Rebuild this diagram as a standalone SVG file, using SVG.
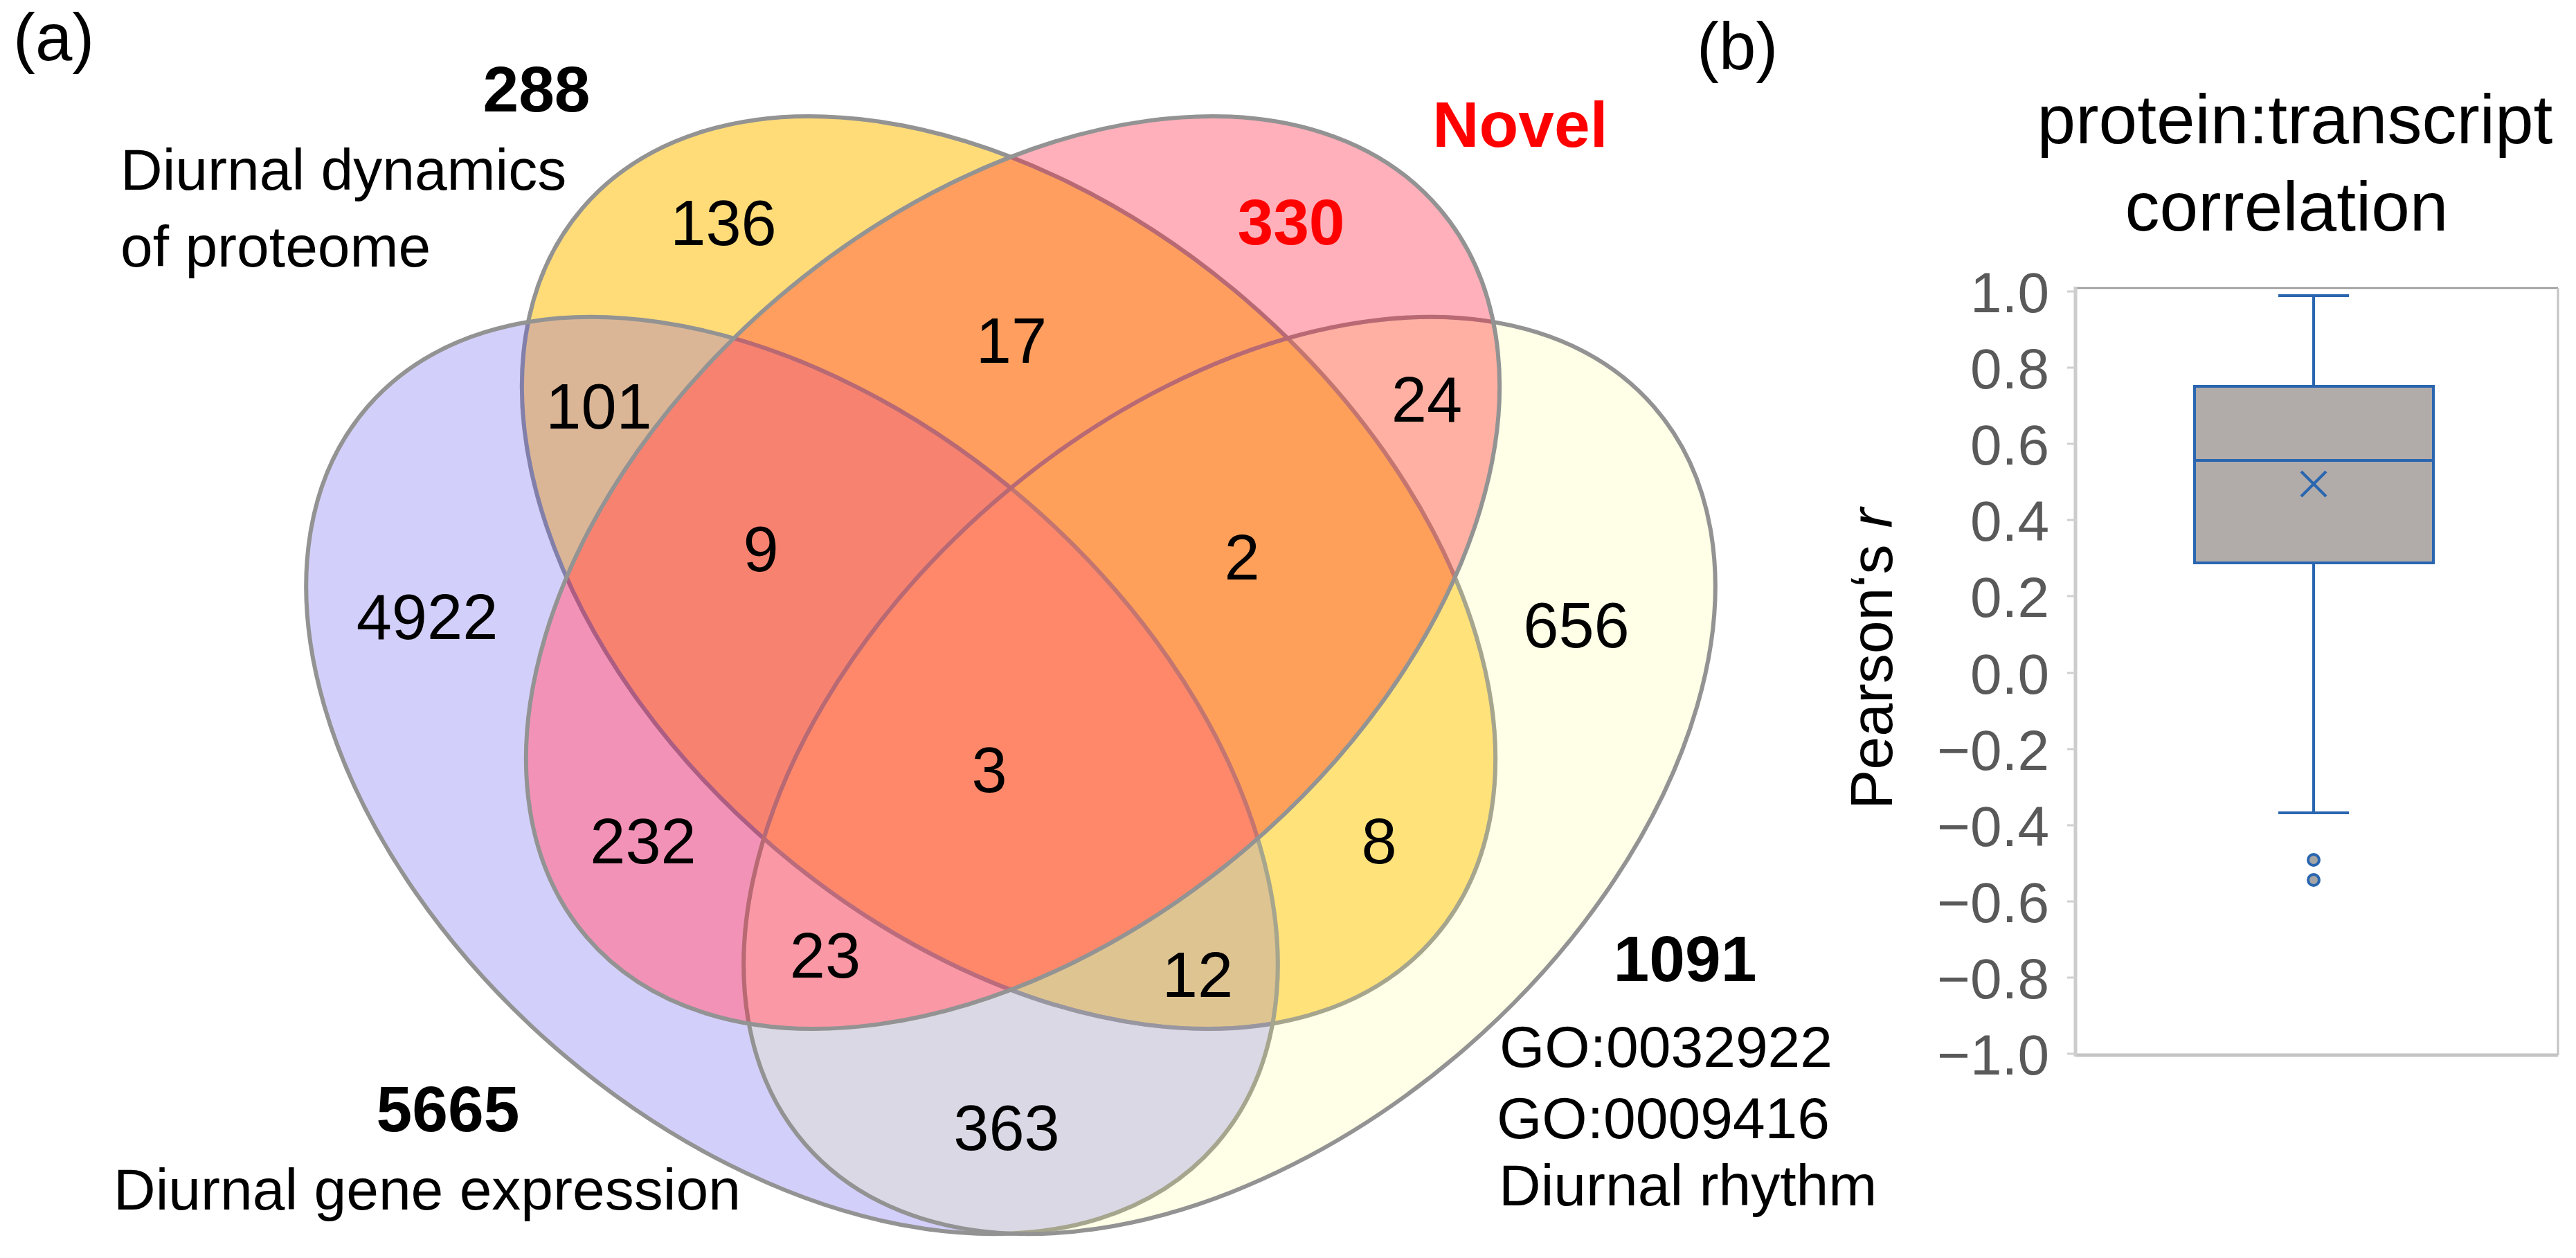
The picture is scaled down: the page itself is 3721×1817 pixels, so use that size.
<svg xmlns="http://www.w3.org/2000/svg" xmlns:xlink="http://www.w3.org/1999/xlink" width="3721" height="1817" viewBox="0 0 3721 1817">
<style>
  .num { font-family: "Liberation Sans", Arial, sans-serif; font-size: 92px; fill: #000; text-anchor: middle; }
  .bold { font-family: "Liberation Sans", Arial, sans-serif; font-size: 93px; font-weight: bold; fill: #000; text-anchor: middle; }
  .red { fill: #ff0000; }
  .lbl { font-family: "Liberation Sans", Arial, sans-serif; font-size: 84px; fill: #000; }
  .panel { font-family: "Liberation Sans", Arial, sans-serif; font-size: 96px; fill: #000; }
  .tick { font-family: "Liberation Sans", Arial, sans-serif; font-size: 82px; fill: #595959; text-anchor: end; }
  .title { font-family: "Liberation Sans", Arial, sans-serif; font-size: 100px; fill: #000; text-anchor: middle; }
  .ol { fill: none; stroke: #939393; stroke-width: 6; }
  .tB { fill: none; stroke: rgb(82,74,236); stroke-opacity: 0.26; stroke-width: 6; }
  .tG { fill: none; stroke: rgb(255,249,116); stroke-opacity: 0.18; stroke-width: 6; }
  .tP { fill: none; stroke: rgb(255,29,58); stroke-opacity: 0.35; stroke-width: 6; }
  .bx { stroke: #2a66b0; stroke-width: 4; }
</style>
<defs>
  <ellipse id="eY" cx="0" cy="0" rx="810" ry="522" transform="translate(1457 827) rotate(40.5)"/>
  <ellipse id="eP" cx="0" cy="0" rx="810" ry="522" transform="translate(1463 827) rotate(-40.5)"/>
  <ellipse id="eB" cx="0" cy="0" rx="812" ry="521" transform="translate(1144 1120) rotate(41)"/>
  <ellipse id="eG" cx="0" cy="0" rx="812" ry="521" transform="translate(1776 1120) rotate(-41)"/>
  <clipPath id="cY"><use xlink:href="#eY"/></clipPath>
  <clipPath id="cP"><use xlink:href="#eP"/></clipPath>
  <clipPath id="cB"><use xlink:href="#eB"/></clipPath>
  <clipPath id="cG"><use xlink:href="#eG"/></clipPath>
</defs>
<rect width="3721" height="1817" fill="#ffffff"/>

<!-- Venn fills -->
<g id="venn-fills">
  <use xlink:href="#eB" fill="#d2d0fa"/>
  <use xlink:href="#eG" fill="#fffee6"/>
  <use xlink:href="#eY" fill="#ffdc78"/>
  <use xlink:href="#eP" fill="#ffb0ba"/>
  <g clip-path="url(#cY)"><use xlink:href="#eB" fill="#dbb696"/></g>
  <g clip-path="url(#cY)"><use xlink:href="#eP" fill="#ff9e5e"/></g>
  <g clip-path="url(#cY)"><use xlink:href="#eG" fill="#ffe27a"/></g>
  <g clip-path="url(#cB)"><use xlink:href="#eP" fill="#f392b7"/></g>
  <g clip-path="url(#cB)"><use xlink:href="#eG" fill="#dad8e4"/></g>
  <g clip-path="url(#cP)"><use xlink:href="#eG" fill="#ffb0a2"/></g>
  <g clip-path="url(#cY)"><g clip-path="url(#cB)"><use xlink:href="#eP" fill="#f88270"/></g></g>
  <g clip-path="url(#cY)"><g clip-path="url(#cB)"><use xlink:href="#eG" fill="#dec491"/></g></g>
  <g clip-path="url(#cY)"><g clip-path="url(#cP)"><use xlink:href="#eG" fill="#ffa05a"/></g></g>
  <g clip-path="url(#cB)"><g clip-path="url(#cP)"><use xlink:href="#eG" fill="#fb98a6"/></g></g>
  <g clip-path="url(#cY)"><g clip-path="url(#cB)"><g clip-path="url(#cP)"><use xlink:href="#eG" fill="#ff886a"/></g></g></g>
</g>

<!-- Venn outlines -->
<g id="set-proteome">
  <use xlink:href="#eY" class="ol"/>
  <g clip-path="url(#cB)"><use xlink:href="#eY" class="tB"/></g>
  <g clip-path="url(#cG)"><use xlink:href="#eY" class="tG"/></g>
  <g clip-path="url(#cP)"><use xlink:href="#eY" class="tP"/></g>
</g>
<g id="set-gene-expression">
  <use xlink:href="#eB" class="ol"/>
  <g clip-path="url(#cG)"><use xlink:href="#eB" class="tG"/></g>
  <g clip-path="url(#cP)"><use xlink:href="#eB" class="tP"/></g>
</g>
<g id="set-go">
  <use xlink:href="#eG" class="ol"/>
  <g clip-path="url(#cP)"><use xlink:href="#eG" class="tP"/></g>
</g>
<g id="set-novel">
  <use xlink:href="#eP" class="ol"/>
</g>

<!-- Region counts -->
<g id="region-counts">
  <text class="num" x="1045" y="354">136</text>
  <text class="bold red" x="1865" y="353">330</text>
  <text class="num" x="865" y="619">101</text>
  <text class="num" x="1461" y="524">17</text>
  <text class="num" x="2061" y="609">24</text>
  <text class="num" x="1099" y="825">9</text>
  <text class="num" x="1794" y="837">2</text>
  <text class="num" x="617" y="923">4922</text>
  <text class="num" x="2277" y="935">656</text>
  <text class="num" x="1429" y="1144">3</text>
  <text class="num" x="929" y="1247">232</text>
  <text class="num" x="1992" y="1247">8</text>
  <text class="num" x="1192" y="1412">23</text>
  <text class="num" x="1730" y="1440">12</text>
  <text class="num" x="1454" y="1661">363</text>
</g>

<!-- Set labels -->
<g id="label-proteome">
  <text class="bold" x="775" y="161">288</text>
  <text class="lbl" x="174" y="274">Diurnal dynamics</text>
  <text class="lbl" x="174" y="385">of proteome</text>
</g>
<g id="label-novel">
  <text class="bold red" x="2196" y="212">Novel</text>
</g>
<g id="label-gene-expression">
  <text class="bold" x="647" y="1634">5665</text>
  <text class="lbl" x="164" y="1747">Diurnal gene expression</text>
</g>
<g id="label-go">
  <text class="bold" x="2434" y="1417">1091</text>
  <text class="lbl" x="2166" y="1541">GO:0032922</text>
  <text class="lbl" x="2162" y="1644">GO:0009416</text>
  <text class="lbl" x="2165" y="1741">Diurnal rhythm</text>
</g>

<g id="panel-labels">
  <text class="panel" x="19" y="87">(a)</text>
  <text class="panel" x="2451" y="100">(b)</text>
</g>

<!-- Box plot -->
<g id="boxplot">
  <text class="title" x="3315" y="207">protein:transcript</text>
  <text class="title" x="3303" y="333">correlation</text>
  <line x1="2997" y1="416" x2="3695" y2="416" stroke="#999999" stroke-width="2.5"/>
  <line x1="3695" y1="416" x2="3695" y2="1524" stroke="#c4c4c4" stroke-width="3"/>
  <line x1="2998" y1="1524" x2="3695" y2="1524" stroke="#c4c4c4" stroke-width="5"/>
  <line x1="2998" y1="414" x2="2998" y2="1526" stroke="#cccccc" stroke-width="5"/>
  <g stroke="#d0d0d0" stroke-width="3">
    <line x1="2986" y1="421" x2="2998" y2="421"/>
    <line x1="2986" y1="531" x2="2998" y2="531"/>
    <line x1="2986" y1="641" x2="2998" y2="641"/>
    <line x1="2986" y1="751" x2="2998" y2="751"/>
    <line x1="2986" y1="861" x2="2998" y2="861"/>
    <line x1="2986" y1="972" x2="2998" y2="972"/>
    <line x1="2986" y1="1082" x2="2998" y2="1082"/>
    <line x1="2986" y1="1192" x2="2998" y2="1192"/>
    <line x1="2986" y1="1302" x2="2998" y2="1302"/>
    <line x1="2986" y1="1412" x2="2998" y2="1412"/>
    <line x1="2986" y1="1522" x2="2998" y2="1522"/>
  </g>
  <text class="tick" x="2960" y="451">1.0</text>
  <text class="tick" x="2960" y="561">0.8</text>
  <text class="tick" x="2960" y="671">0.6</text>
  <text class="tick" x="2960" y="781">0.4</text>
  <text class="tick" x="2960" y="891">0.2</text>
  <text class="tick" x="2960" y="1002">0.0</text>
  <text class="tick" x="2960" y="1112">−0.2</text>
  <text class="tick" x="2960" y="1222">−0.4</text>
  <text class="tick" x="2960" y="1332">−0.6</text>
  <text class="tick" x="2960" y="1442">−0.8</text>
  <text class="tick" x="2960" y="1552">−1.0</text>
  <text font-family="Liberation Sans, Arial, sans-serif" font-size="86" fill="#000" transform="translate(2733 1169) rotate(-90)">Pearson‘s <tspan font-style="italic">r</tspan></text>
  <g class="bx" fill="none">
    <line x1="3342" y1="427" x2="3342" y2="558"/>
    <line x1="3291" y1="427" x2="3393" y2="427"/>
    <line x1="3342" y1="813" x2="3342" y2="1174"/>
    <line x1="3291" y1="1174" x2="3393" y2="1174"/>
  </g>
  <rect class="bx" x="3170" y="558" width="345" height="255" fill="#b1acaa"/>
  <line class="bx" x1="3170" y1="665" x2="3515" y2="665"/>
  <g class="bx" stroke-width="3">
    <line x1="3324" y1="681" x2="3360" y2="717"/>
    <line x1="3360" y1="681" x2="3324" y2="717"/>
  </g>
  <circle class="bx" cx="3342" cy="1242" r="8" fill="#a5a5a5" stroke-width="3"/>
  <circle class="bx" cx="3342" cy="1271" r="8" fill="#a5a5a5" stroke-width="3"/>
</g>
</svg>
